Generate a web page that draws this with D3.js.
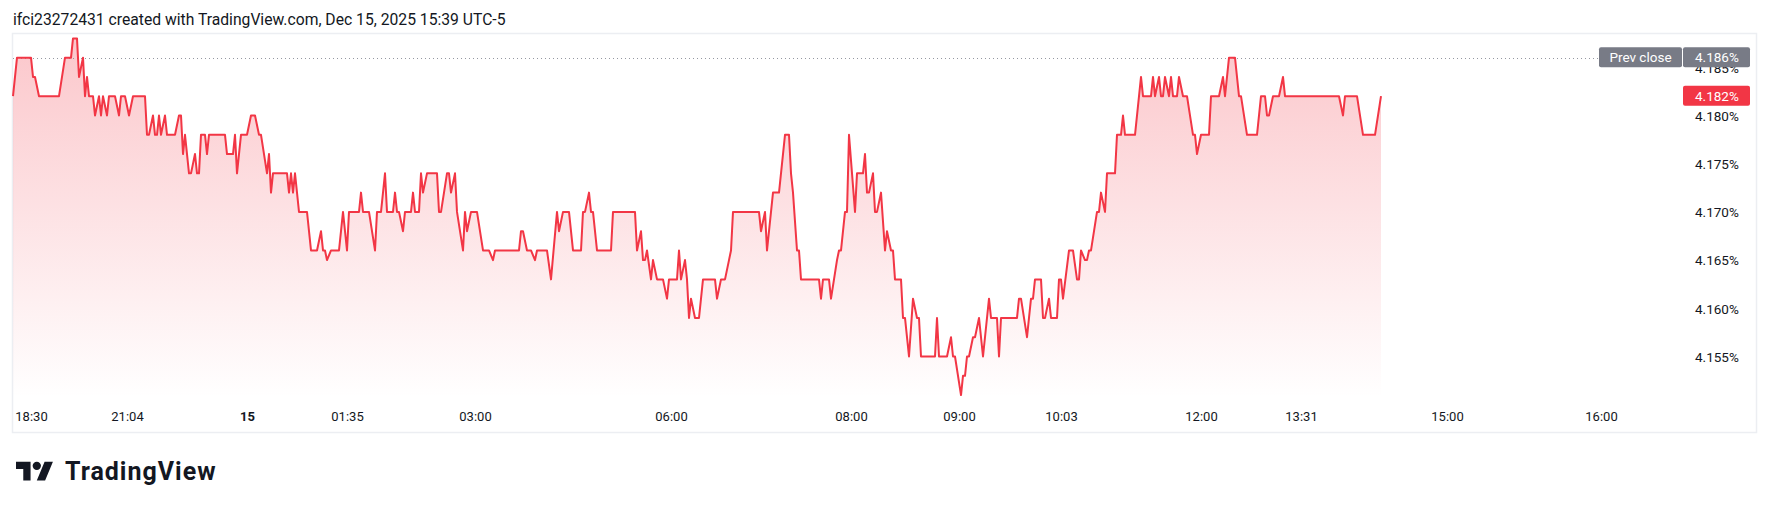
<!DOCTYPE html>
<html>
<head>
<meta charset="utf-8">
<script src="https://cdn.jsdelivr.net/npm/d3@7"></script>
<style>
  html, body { margin: 0; padding: 0; background: #ffffff; }
  svg { display: block; }
  text { font-family: Roboto, "Liberation Sans", sans-serif; fill: #131722; }
</style>
</head>
<body>
<svg id="chart" width="1769" height="509"></svg>
<script>
// ---------------- DATA ----------------
const titleText = "ifci23272431 created with TradingView.com, Dec 15, 2025 15:39 UTC-5";

// bar index (time-ordered, TradingView index-based time scale)
const barIndex = [
  0, 2, 9, 10, 11, 13, 23, 26, 29, 30, 32, 33, 35, 36, 37, 38, 40, 41, 43, 44,
  45, 47, 48, 51, 53, 54, 56, 58, 60, 66, 67, 68, 70, 71, 72, 73, 74, 76, 77, 81,
  83, 84, 85, 86, 88, 89, 91, 92, 93, 94, 96, 97, 98, 106, 107, 110, 111, 112, 114, 117,
  119, 121, 123, 124, 127, 128, 129, 130, 137, 138, 139, 140, 141, 143, 147, 149, 152, 154, 155, 156,
  157, 159, 163, 165, 167, 168, 173, 174, 175, 178, 181, 182, 184, 186, 187, 190, 191, 192, 193, 195,
  196, 199, 200, 201, 203, 204, 205, 207, 212, 213, 214, 217, 218, 219, 221, 222, 225, 226, 227, 229,
  232, 235, 238, 240, 241, 253, 254, 255, 257, 259, 261, 262, 267, 269, 272, 273, 275, 278, 280, 284,
  285, 286, 288, 289, 290, 292, 299, 300, 311, 312, 314, 315, 316, 317, 319, 320, 322, 325, 327, 328,
  332, 333, 334, 336, 337, 338, 339, 341, 343, 345, 351, 352, 354, 356, 358, 359, 360, 373, 374, 376,
  377, 379, 380, 383, 384, 386, 388, 389, 390, 392, 393, 394, 403, 404, 405, 408, 409, 412, 413, 414,
  416, 417, 418, 421, 422, 425, 426, 427, 428, 430, 431, 432, 434, 436, 437, 439, 440, 441, 444, 445,
  446, 448, 450, 452, 453, 454, 461, 462, 463, 467, 469, 470, 471, 474, 475, 476, 477, 478, 480, 481,
  483, 485, 488, 489, 492, 493, 494, 502, 503, 504, 507, 509, 510, 511, 514, 515, 516, 518, 519, 522,
  523, 524, 525, 528, 530, 532, 533, 534, 536, 537, 538, 539, 542, 543, 544, 546, 547, 551, 552, 554,
  555, 556, 561, 564, 565, 569, 570, 571, 573, 574, 575, 576, 578, 579, 580, 582, 583, 585, 587, 590,
  591, 592, 594, 598, 599, 603, 605, 606, 608, 611, 613, 614, 617, 622, 624, 626, 627, 628, 630, 633,
  635, 636, 663, 665, 666, 672, 675, 681, 684
];

// US 10Y yield, %
const yieldPct = [
  4.182, 4.186, 4.186, 4.184, 4.184, 4.182, 4.182, 4.186, 4.186, 4.188, 4.188, 4.184, 4.186, 4.182, 4.184, 4.182, 4.182, 4.180, 4.182, 4.180,
  4.182, 4.180, 4.182, 4.182, 4.180, 4.182, 4.182, 4.180, 4.182, 4.182, 4.178, 4.178, 4.180, 4.178, 4.178, 4.180, 4.178, 4.180, 4.178, 4.178,
  4.180, 4.180, 4.176, 4.178, 4.174, 4.174, 4.176, 4.174, 4.174, 4.178, 4.178, 4.176, 4.178, 4.178, 4.176, 4.176, 4.178, 4.174, 4.178, 4.178,
  4.180, 4.180, 4.178, 4.178, 4.174, 4.176, 4.172, 4.174, 4.174, 4.172, 4.174, 4.172, 4.174, 4.170, 4.170, 4.166, 4.166, 4.168, 4.166, 4.166,
  4.165, 4.166, 4.166, 4.170, 4.166, 4.170, 4.170, 4.172, 4.170, 4.170, 4.166, 4.170, 4.170, 4.174, 4.170, 4.170, 4.172, 4.170, 4.170, 4.168,
  4.170, 4.170, 4.172, 4.170, 4.170, 4.174, 4.172, 4.174, 4.174, 4.170, 4.170, 4.174, 4.174, 4.172, 4.174, 4.170, 4.166, 4.170, 4.168, 4.170,
  4.170, 4.166, 4.166, 4.165, 4.166, 4.166, 4.168, 4.168, 4.166, 4.166, 4.165, 4.166, 4.166, 4.163, 4.170, 4.168, 4.170, 4.170, 4.166, 4.166,
  4.170, 4.170, 4.172, 4.170, 4.170, 4.166, 4.166, 4.170, 4.170, 4.166, 4.168, 4.165, 4.165, 4.166, 4.163, 4.165, 4.163, 4.163, 4.161, 4.163,
  4.163, 4.166, 4.163, 4.165, 4.163, 4.159, 4.161, 4.159, 4.159, 4.163, 4.163, 4.161, 4.163, 4.163, 4.165, 4.166, 4.170, 4.170, 4.168, 4.170,
  4.166, 4.170, 4.172, 4.172, 4.174, 4.178, 4.178, 4.174, 4.172, 4.166, 4.166, 4.163, 4.163, 4.161, 4.163, 4.163, 4.161, 4.165, 4.166, 4.166,
  4.170, 4.170, 4.178, 4.170, 4.174, 4.174, 4.176, 4.172, 4.172, 4.174, 4.170, 4.170, 4.172, 4.166, 4.168, 4.166, 4.166, 4.163, 4.163, 4.159,
  4.159, 4.155, 4.161, 4.159, 4.159, 4.155, 4.155, 4.159, 4.155, 4.155, 4.157, 4.155, 4.155, 4.151, 4.153, 4.153, 4.155, 4.155, 4.157, 4.157,
  4.159, 4.155, 4.161, 4.159, 4.159, 4.155, 4.159, 4.159, 4.161, 4.161, 4.157, 4.161, 4.161, 4.163, 4.163, 4.159, 4.159, 4.161, 4.159, 4.159,
  4.163, 4.163, 4.161, 4.166, 4.166, 4.163, 4.163, 4.166, 4.165, 4.165, 4.166, 4.166, 4.170, 4.170, 4.172, 4.170, 4.174, 4.174, 4.178, 4.178,
  4.180, 4.178, 4.178, 4.184, 4.182, 4.182, 4.184, 4.182, 4.184, 4.182, 4.182, 4.184, 4.182, 4.184, 4.182, 4.182, 4.184, 4.182, 4.182, 4.178,
  4.178, 4.176, 4.178, 4.178, 4.182, 4.182, 4.184, 4.182, 4.186, 4.186, 4.182, 4.182, 4.178, 4.178, 4.182, 4.182, 4.180, 4.180, 4.182, 4.182,
  4.184, 4.182, 4.182, 4.180, 4.182, 4.182, 4.178, 4.178, 4.182
];

const prevClose = 4.186;

// time axis tick labels and the bar index they sit on
const timeTickLabels = ["18:30", "21:04", "15", "01:35", "03:00", "06:00", "08:00", "09:00", "10:03", "12:00", "13:31", "15:00", "16:00"];
const timeTickIndex  = [9, 57, 117, 167, 231, 329, 419, 473, 524, 594, 644, 717, 794];
const boldTickLabels = ["15"];

// price axis ticks
const priceTicks = [4.155, 4.160, 4.165, 4.170, 4.175, 4.180, 4.185];

// ---------------- CHART ----------------
const W = 1769, H = 509;
const svg = d3.select("#chart");
svg.append("rect").attr("width", W).attr("height", H).attr("fill", "#ffffff");

const lineColor = "#f23645";
const paneBottom = 398;

const x = d3.scaleLinear().domain([0, 684]).range([13, 1381]);
const y = d3.scaleLinear().domain([4.150, 4.190]).range([404.7, 19.1]);

const data = barIndex.map((b, k) => ({ b, v: yieldPct[k] }));

// title
svg.append("text")
  .attr("x", 13).attr("y", 24.5)
  .attr("font-size", 15.7)
  .text(titleText);

// frame
svg.append("rect")
  .attr("x", 12.5).attr("y", 33.5)
  .attr("width", 1744).attr("height", 399)
  .attr("fill", "none")
  .attr("stroke", "#eceef2")
  .attr("stroke-width", 1.5);

// gradient
const defs = svg.append("defs");
const grad = defs.append("linearGradient")
  .attr("id", "areaGrad")
  .attr("gradientUnits", "userSpaceOnUse")
  .attr("x1", 0).attr("x2", 0)
  .attr("y1", y(d3.max(yieldPct))).attr("y2", paneBottom);
grad.append("stop").attr("offset", "0%").attr("stop-color", lineColor).attr("stop-opacity", 0.28);
grad.append("stop").attr("offset", "100%").attr("stop-color", lineColor).attr("stop-opacity", 0.0);

const area = d3.area()
  .x(d => x(d.b))
  .y0(paneBottom)
  .y1(d => y(d.v));

svg.append("path")
  .datum(data)
  .attr("d", area)
  .attr("fill", "url(#areaGrad)");

// previous close dotted line
svg.append("line")
  .attr("x1", x(0)).attr("x2", 1599)
  .attr("y1", Math.round(y(prevClose)) + 0.5).attr("y2", Math.round(y(prevClose)) + 0.5)
  .attr("stroke", "#9598a1")
  .attr("stroke-width", 1)
  .attr("stroke-dasharray", "1,3");

// line
const line = d3.line()
  .x(d => x(d.b))
  .y(d => y(d.v));

svg.append("path")
  .datum(data)
  .attr("d", line)
  .attr("fill", "none")
  .attr("stroke", lineColor)
  .attr("stroke-width", 2)
  .attr("stroke-linejoin", "round");

// time axis
const xAxis = d3.axisBottom(x)
  .tickValues(timeTickIndex)
  .tickSize(0)
  .tickPadding(0)
  .tickFormat((d, i) => timeTickLabels[i]);

const gx = svg.append("g")
  .attr("transform", "translate(0,421)")
  .call(xAxis);
gx.select(".domain").remove();
gx.selectAll("text")
  .attr("dy", 0)
  .attr("font-size", 13)
  .attr("font-family", "Roboto, 'Liberation Sans', sans-serif")
  .attr("fill", "#131722")
  .attr("font-weight", d => boldTickLabels.includes(timeTickLabels[timeTickIndex.indexOf(d)]) ? "bold" : "normal");

// price axis
const yAxis = d3.axisRight(y)
  .tickValues(priceTicks)
  .tickSize(0)
  .tickPadding(0)
  .tickFormat(d => d3.format(".3f")(d) + "%");

const gy = svg.append("g")
  .attr("transform", "translate(1695,0)")
  .call(yAxis);
gy.select(".domain").remove();
gy.selectAll("text")
  .attr("font-size", 13.5)
  .attr("font-family", "Roboto, 'Liberation Sans', sans-serif")
  .attr("fill", "#131722")
  .attr("dy", "0.35em");

// Prev close label (drawn over the partially hidden 4.185% tick, as in the original)
const pcY = y(prevClose);
const pcG = svg.append("g");
pcG.append("rect")
  .attr("x", 1599).attr("y", pcY - 10.5).attr("width", 83).attr("height", 20).attr("rx", 2)
  .attr("fill", "#787b86");
pcG.append("rect")
  .attr("x", 1683).attr("y", pcY - 10.5).attr("width", 67).attr("height", 20).attr("rx", 2)
  .attr("fill", "#787b86");
pcG.append("text")
  .attr("x", 1640.5).attr("y", pcY).attr("dy", "0.35em")
  .attr("text-anchor", "middle").attr("font-size", 13.5)
  .style("fill", "#ffffff")
  .text("Prev close");
pcG.append("text")
  .attr("x", 1695).attr("y", pcY).attr("dy", "0.35em")
  .attr("font-size", 13.5)
  .style("fill", "#ffffff")
  .text(d3.format(".3f")(prevClose) + "%");

// last value label
const lastV = yieldPct[yieldPct.length - 1];
const lvY = y(lastV);
svg.append("rect")
  .attr("x", 1683).attr("y", lvY - 10.5).attr("width", 67).attr("height", 20).attr("rx", 2)
  .attr("fill", lineColor);
svg.append("text")
  .attr("x", 1695).attr("y", lvY).attr("dy", "0.35em")
  .attr("font-size", 13.5)
  .style("fill", "#ffffff")
  .text(d3.format(".3f")(lastV) + "%");

// TradingView logo
const logo = svg.append("g").attr("transform", "translate(16,457.5) scale(1.04)");
logo.append("path")
  .attr("d", "M14 22H7V11H0V4h14v18zM28 22h-8l7.5-18h8L28 22z")
  .attr("fill", "#131722");
logo.append("circle").attr("cx", 20).attr("cy", 8).attr("r", 4).attr("fill", "#131722");
svg.append("text")
  .attr("x", 65).attr("y", 479.5)
  .attr("font-size", 25)
  .attr("font-weight", "bold")
  .attr("letter-spacing", 1.0)
  .text("TradingView");
</script>
</body>
</html>
